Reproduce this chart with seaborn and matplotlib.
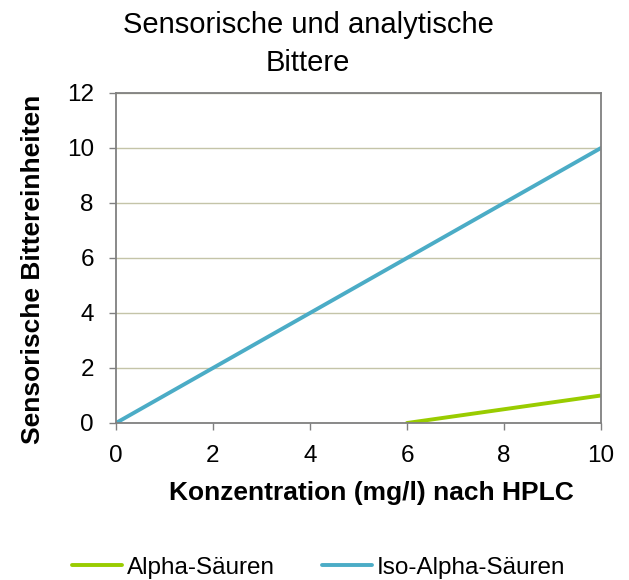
import matplotlib
matplotlib.use("Agg")
import matplotlib.pyplot as plt
import pandas as pd
import seaborn as sns

# data
alpha_x = [6, 8, 10]
alpha_y = [0, 0.5, 1]
iso_x = [0, 2, 4, 6, 8, 10]
iso_y = [0, 2, 4, 6, 8, 10]
series_names = ["Alpha-Säuren", "Iso-Alpha-Säuren"]
x_ticks = [0, 2, 4, 6, 8, 10]
y_ticks = [0, 2, 4, 6, 8, 10, 12]

df = pd.concat([
    pd.DataFrame({"x": alpha_x, "y": alpha_y, "serie": series_names[0]}),
    pd.DataFrame({"x": iso_x, "y": iso_y, "serie": series_names[1]}),
])

sns.set_style("white")
plt.rcParams["font.family"] = ["Liberation Sans", "DejaVu Sans"]
plt.rcParams["text.color"] = "black"
plt.rcParams["axes.labelcolor"] = "black"
plt.rcParams["xtick.labelcolor"] = "black"
plt.rcParams["ytick.labelcolor"] = "black"

fig = plt.figure(figsize=(6.29, 5.80), dpi=100)
ax = fig.add_axes([0.1844, 0.2707, 0.7711, 0.569])

palette = {series_names[0]: "#99CC00", series_names[1]: "#4BACC6"}
sns.lineplot(data=df, x="x", y="y", hue="serie", palette=palette,
             linewidth=2.8, ax=ax, legend=False)

ax.set_xlim(0, 10)
ax.set_ylim(0, 12)
ax.set_xticks(x_ticks)
ax.set_yticks(y_ticks)
ax.tick_params(axis="both", labelsize=17.5, direction="out", length=5,
               width=1, color="#808080", labelcolor="black",
               bottom=True, left=True)
ax.tick_params(axis="x", pad=11)
ax.tick_params(axis="y", pad=11)
ax.yaxis.grid(True, color="#c4c4a8", linewidth=1)
ax.xaxis.grid(False)
for s in ax.spines.values():
    s.set_color("#808080")
    s.set_linewidth(1.3)

ax.set_title("Sensorische und analytische\nBittere", fontsize=21,
             linespacing=1.45, pad=16, x=0.396, color="black")
ax.set_xlabel("Konzentration (mg/l) nach HPLC", fontsize=19,
              fontweight="bold", labelpad=10)
ax.set_ylabel("Sensorische Bittereinheiten", fontsize=19,
              fontweight="bold", labelpad=14)
ax.xaxis.set_label_coords(0.526, -0.175)
ax.yaxis.set_label_coords(-0.146, 0.464)

handles = [plt.Line2D([], [], color=palette[n], linewidth=2.8) for n in series_names]
fig.legend(handles, series_names, loc="center", ncol=2,
           bbox_to_anchor=(0.507, 0.021), frameon=False, fontsize=17.5,
           handlelength=2.06, handletextpad=0.2, columnspacing=1.93)

fig.savefig("out.png", dpi=100)
